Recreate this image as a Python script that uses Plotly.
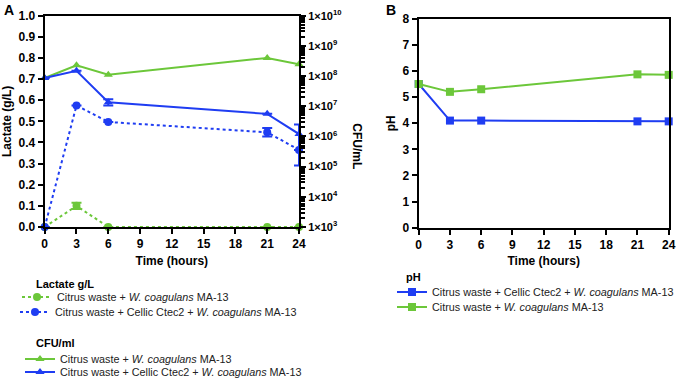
import plotly.graph_objects as go

W, H = 676, 380
time = [0, 3, 6, 21, 24]
x_ticks = [0, 3, 6, 9, 12, 15, 18, 21, 24]

lact_cw = [0.0, 0.10, 0.0, 0.0, 0.0]
lact_cw_err = [0, 0.015, 0, 0, 0]
lact_cc = [0.0, 0.575, 0.497, 0.448, 0.365]
lact_cc_err = [0, 0, 0, 0.02, 0]

cfu_cw = [8.6e7, 2.27e8, 1.1e8, 4.0e8, 2.45e8]
cfu_cc = [8.6e7, 1.5e8, 1.35e7, 5.6e6, 1.2e6]
cfu_cc_err_plus = [0, 0, 3.7e6, 0, 1.3e6]
cfu_cc_err_minus = [0, 0, 2.9e6, 0, 1.09e6]

ph_cc = [5.5, 4.1, 4.1, 4.07, 4.07]
ph_cw = [5.5, 5.2, 5.3, 5.87, 5.85]

cfu_decades = [3, 4, 5, 6, 7, 8, 9, 10]
ph_ticks = [0, 1, 2, 3, 4, 5, 6, 7, 8]
lact_ticks = [0.0, 0.1, 0.2, 0.3, 0.4, 0.5, 0.6, 0.7, 0.8, 0.9, 1.0]

GREEN = "#6CC73A"
BLUE = "#1F3DF2"
FONT = "Liberation Sans"

name_cw = "Citrus waste + <i>W. coagulans</i> MA-13"
name_cc = "Citrus waste + Cellic Ctec2 + <i>W. coagulans</i> MA-13"

fig = go.Figure()

# Lactate (dotted, circles)
fig.add_trace(go.Scatter(x=time, y=lact_cw, name=name_cw, mode="lines+markers",
    line=dict(color=GREEN, width=2, dash="dot"), marker=dict(symbol="circle", size=8, color=GREEN),
    error_y=dict(type="data", array=lact_cw_err, color=GREEN, thickness=2, width=5),
    xaxis="x", yaxis="y", legend="legend", cliponaxis=False, showlegend=True))
fig.add_trace(go.Scatter(x=time, y=lact_cc, name=name_cc, mode="lines+markers",
    line=dict(color=BLUE, width=2, dash="dot"), marker=dict(symbol="circle", size=8, color=BLUE),
    error_y=dict(type="data", array=lact_cc_err, color=BLUE, thickness=2, width=5),
    xaxis="x", yaxis="y", legend="legend2", cliponaxis=False, showlegend=True))

# CFU (solid, triangles) on right log axis
fig.add_trace(go.Scatter(x=time, y=cfu_cw, name=name_cw, mode="lines+markers",
    line=dict(color=GREEN, width=2), marker=dict(symbol="triangle-up", size=8, color=GREEN),
    xaxis="x", yaxis="y3", legend="legend3", cliponaxis=False, showlegend=True))
fig.add_trace(go.Scatter(x=time, y=cfu_cc, name=name_cc, mode="lines+markers",
    line=dict(color=BLUE, width=2), marker=dict(symbol="triangle-up", size=8, color=BLUE),
    error_y=dict(type="data", symmetric=False, array=cfu_cc_err_plus, arrayminus=cfu_cc_err_minus,
                 color=BLUE, thickness=2, width=5),
    xaxis="x", yaxis="y3", legend="legend4", cliponaxis=False, showlegend=True))

# pH
fig.add_trace(go.Scatter(x=time, y=ph_cc, name=name_cc, mode="lines+markers",
    line=dict(color=BLUE, width=2), marker=dict(symbol="square", size=8, color=BLUE),
    xaxis="x2", yaxis="y2", legend="legend5", cliponaxis=False, showlegend=True))
fig.add_trace(go.Scatter(x=time, y=ph_cw, name=name_cw, mode="lines+markers",
    line=dict(color=GREEN, width=2), marker=dict(symbol="square", size=8, color=GREEN),
    xaxis="x2", yaxis="y2", legend="legend6", cliponaxis=False, showlegend=True))

axfont = dict(family=FONT, size=12, color="black", weight="bold")
common = dict(showline=True, linecolor="black", linewidth=2, ticks="outside", ticklen=5,
              tickwidth=2, tickcolor="black", showgrid=False, zeroline=False, tickfont=axfont)

xA = [44.7 / W, 299 / W]
xB = [418.7 / W, 668.7 / W]
yA = [1 - 227 / H, 1 - 15.7 / H]
yB = [1 - 227.7 / H, 1 - 18.7 / H]

minor_vals = [k * 10 ** d for d in cfu_decades[:-1] for k in range(2, 10)]


def leg(xpx, ypx):
    return dict(x=xpx / W, y=1 - ypx / H, xanchor="left", yanchor="middle",
                bgcolor="rgba(0,0,0,0)", font=dict(family=FONT, size=10.8, color="#222"),
                itemwidth=30, tracegroupgap=0)


def ann(text, xpx, ypx, size=11, **kw):
    d = dict(text=text, x=xpx / W, y=1 - ypx / H, xref="paper", yref="paper", xanchor="left",
             yanchor="middle", showarrow=False, font=dict(family=FONT, size=size, color="black"))
    d.update(kw)
    return d


fig.update_layout(
    width=W, height=H, plot_bgcolor="white", paper_bgcolor="white",
    margin=dict(l=0, r=0, t=0, b=0, autoexpand=False),
    font=dict(family=FONT, color="black"),
    showlegend=True,
    xaxis=dict(domain=xA, range=[0, 24], tickvals=x_ticks, anchor="y", mirror=True,
               title=dict(text="Time (hours)", font=axfont, standoff=6), **common),
    yaxis=dict(domain=yA, range=[0, 1.0], tickvals=lact_ticks, tickformat=".1f", anchor="x",
               title=dict(text="Lactate (g/L)", font=axfont, standoff=4), **common),
    yaxis3=dict(overlaying="y", side="right", type="log", range=[3, 10], anchor="x",
                tickvals=[10 ** d for d in cfu_decades],
                ticktext=[f"1×10<sup>{d}</sup>" for d in cfu_decades],
                minor=dict(tickvals=minor_vals, ticks="outside", ticklen=4, tickwidth=1.5, tickcolor="black"),
                **{**common, "tickfont": dict(family=FONT, size=11, color="black", weight="bold")}),
    xaxis2=dict(domain=xB, range=[0, 24], tickvals=x_ticks, anchor="y2", mirror=True,
                title=dict(text="Time (hours)", font=axfont, standoff=6), **common),
    yaxis2=dict(domain=yB, range=[0, 8], tickvals=ph_ticks, anchor="x2", mirror=True,
                title=dict(text="pH", font=axfont, standoff=4), **common),
    legend=leg(17, 297),
    legend2=leg(15, 312),
    legend3=leg(20, 359),
    legend4=leg(20, 372),
    legend5=leg(392, 292),
    legend6=leg(392, 307),
    annotations=[
        ann("<b>A</b>", 2, 10, size=14),
        ann("<b>B</b>", 384, 10, size=14),
        dict(text="<b>CFU/mL</b>", x=357 / W, y=(yA[0] + yA[1]) / 2, xref="paper", yref="paper",
             textangle=90, showarrow=False, font=dict(family=FONT, size=12, color="black")),
        ann("<b>Lactate g/L</b>", 34, 284),
        ann("<b>CFU/ml</b>", 34, 343),
        ann("<b>pH</b>", 404, 277),
    ],
)

fig.write_html("out.html", config={"displayModeBar": False},
               post_script="document.body.style.margin='0';document.body.style.padding='0';")
